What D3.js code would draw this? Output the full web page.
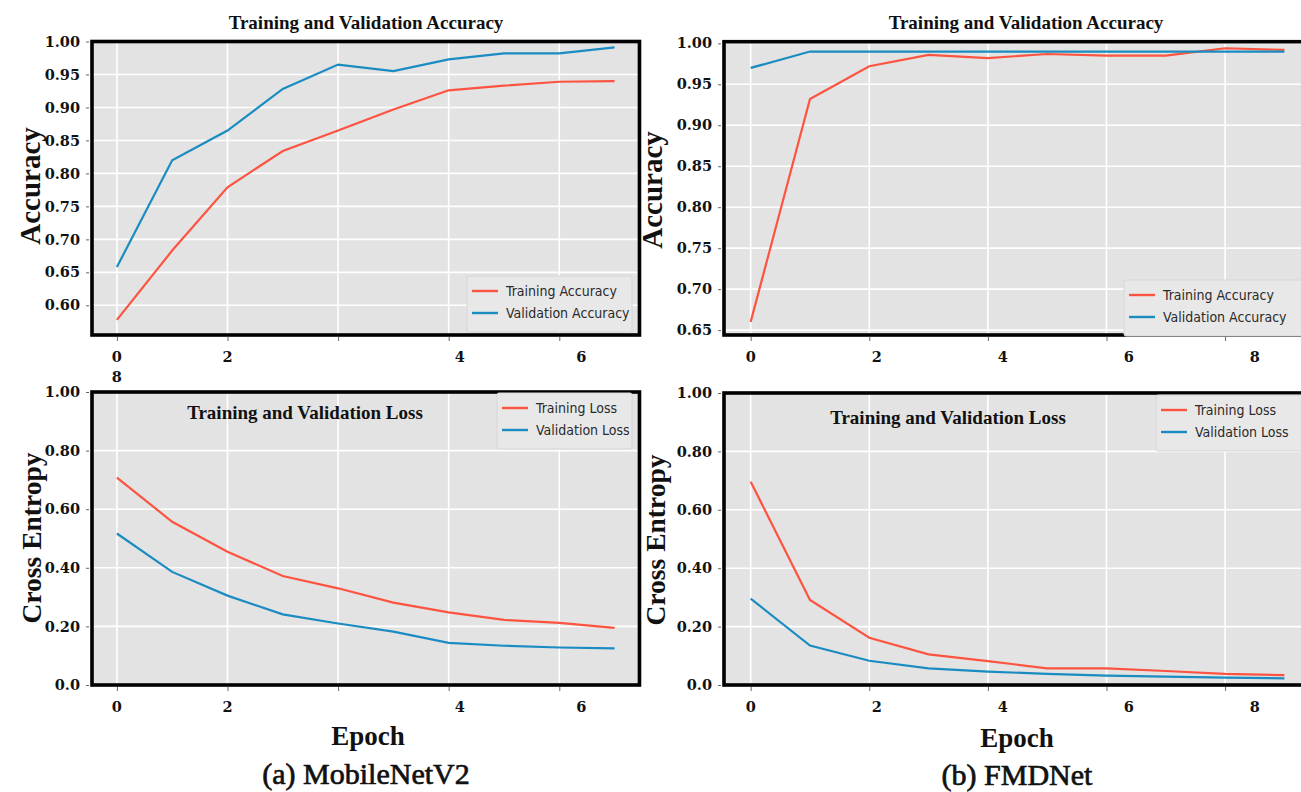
<!DOCTYPE html>
<html><head><meta charset="utf-8">
<script src="https://cdn.jsdelivr.net/npm/d3@7"></script>
<style>body{margin:0;background:#fff} svg{display:block}</style>
</head><body><svg id="c" width="1301" height="792"></svg>
<script>
// ---------- data ----------
const epochs = [0,1,2,3,4,5,6,7,8,9];
const mobTrainAcc = [0.578,0.683,0.779,0.834,0.865,0.897,0.926,0.933,0.939,0.940];
const mobValAcc   = [0.658,0.820,0.865,0.928,0.965,0.955,0.973,0.982,0.982,0.991];
const mobTrainLoss= [0.708,0.557,0.455,0.372,0.330,0.281,0.248,0.222,0.212,0.195];
const mobValLoss  = [0.517,0.386,0.305,0.241,0.210,0.182,0.144,0.134,0.128,0.125];
const fmdTrainAcc = [0.660,0.932,0.972,0.986,0.982,0.987,0.985,0.985,0.994,0.992];
const fmdValAcc   = [0.970,0.990,0.990,0.990,0.990,0.990,0.990,0.990,0.990,0.990];
const fmdTrainLoss= [0.696,0.291,0.162,0.105,0.082,0.057,0.057,0.048,0.038,0.034];
const fmdValLoss  = [0.296,0.135,0.083,0.057,0.046,0.038,0.032,0.029,0.025,0.023];
const yTicksAccA = [0.60,0.65,0.70,0.75,0.80,0.85,0.90,0.95,1.00];
const yTicksAccB = [0.65,0.70,0.75,0.80,0.85,0.90,0.95,1.00];
const yTicksLoss = [0.0,0.2,0.4,0.6,0.8,1.0];
const yLabelsLoss = ["0.0","0.20","0.40","0.60","0.80","1.00"];
const gridEpochs = [0,2,4,6,8];
const xTickLabelsA = ["0","2","4","6"];
const xTickLabelsB = ["0","2","4","6","8"];
const strayLabelA = "8";
const accLegend = ["Training Accuracy","Validation Accuracy"];
const lossLegend = ["Training Loss","Validation Loss"];
const titles = {acc:"Training and Validation Accuracy", loss:"Training and Validation Loss"};
const captions = ["(a) MobileNetV2","(b) FMDNet"];

// ---------- style ----------
const RED = "#FC5440", BLUE = "#1B8CC2";
const SERIF = "'DejaVu Serif', serif";
const TSERIF = "'Liberation Serif', serif";
const SANS = "'DejaVu Sans', sans-serif";
const svg = d3.select("#c");

function panel(o){
  const x = d3.scaleLinear().domain([-0.45, 9.45]).range([o.l, o.l + 9.9*o.step]);
  const y = d3.scaleLinear().domain(o.yd).range([o.b, o.t]);
  const g = svg.append("g");
  const clipId = "clip" + Math.round(o.l) + Math.round(o.t);
  g.append("clipPath").attr("id", clipId).append("rect")
    .attr("x", o.l).attr("y", o.t).attr("width", x.range()[1]-o.l).attr("height", o.b-o.t);
  g.append("rect").attr("x", o.l).attr("y", o.t).attr("width", x.range()[1]-o.l).attr("height", o.b-o.t)
    .attr("fill", "#E3E3E3");
  // grid
  const gg = g.append("g").attr("clip-path", `url(#${clipId})`);
  gg.selectAll(".gy").data(o.yTicks).join("line")
    .attr("x1", o.l).attr("x2", x.range()[1]).attr("y1", d=>y(d)).attr("y2", d=>y(d))
    .attr("stroke", "#fff").attr("stroke-width", 1.6);
  gg.selectAll(".gx").data(gridEpochs).join("line")
    .attr("x1", d=>x(d)).attr("x2", d=>x(d)).attr("y1", o.t).attr("y2", o.b)
    .attr("stroke", "#fff").attr("stroke-width", 1.6);
  // lines
  const line = d3.line().x((d,i)=>x(epochs[i])).y(d=>y(d));
  gg.append("path").attr("d", line(o.s1)).attr("fill","none").attr("stroke",RED).attr("stroke-width",2.2);
  gg.append("path").attr("d", line(o.s2)).attr("fill","none").attr("stroke",BLUE).attr("stroke-width",2.2);
  // y axis
  const ya = d3.axisLeft(y).tickValues(o.yTicks).tickSize(3).tickPadding(6)
    .tickFormat((d,i)=>o.yFmt(d,i));
  const yg = g.append("g").attr("transform", `translate(${o.l-3},0)`).call(ya);
  yg.select(".domain").remove();
  yg.selectAll(".tick line").attr("stroke","#666");
  yg.selectAll("text").attr("font-family", SERIF).attr("font-weight","bold")
    .attr("font-size", 14.5).attr("fill","#111");
  // x axis tick marks
  const xa = d3.axisBottom(x).tickValues(gridEpochs).tickSize(4).tickFormat("");
  const xg = g.append("g").attr("transform", `translate(0,${o.b+2})`).call(xa);
  xg.select(".domain").remove();
  xg.selectAll(".tick line").attr("stroke","#666");
  // x tick labels (placed as in the source figure)
  const ls = d3.scaleLinear().domain(o.labDom).range(o.labPos.map(v=>x(v)));
  g.selectAll(".xl").data(o.xLabels).join("text")
    .attr("x", (d,i)=>ls(+d)).attr("y", o.b + 27).attr("text-anchor","middle")
    .attr("font-family", SERIF).attr("font-weight","bold").attr("font-size",14.5).attr("fill","#111")
    .text(d=>d);
  if (o.stray) g.append("text").attr("x", ls(0)).attr("y", o.b + 47).attr("text-anchor","middle")
    .attr("font-family", SERIF).attr("font-weight","bold").attr("font-size",14.5).attr("fill","#111")
    .text(o.stray);
  // frame
  g.append("rect").attr("x", o.l).attr("y", o.t).attr("width", x.range()[1]-o.l).attr("height", o.b-o.t)
    .attr("fill","none").attr("stroke","#000").attr("stroke-width",3.6);
  // legend
  const lg = g.append("g").attr("transform", `translate(${o.lx},${o.ly})`);
  lg.append("rect").attr("width", o.lw).attr("height", 56).attr("fill","#E8E8E8")
    .attr("stroke","#D6D6D6").attr("stroke-width",1).attr("rx",2);
  o.leg.forEach((t,i)=>{
    lg.append("line").attr("x1",5).attr("x2",31).attr("y1",15+i*22).attr("y2",15+i*22)
      .attr("stroke", i? BLUE: RED).attr("stroke-width",2.4);
    lg.append("text").attr("x",39).attr("y",20+i*22).attr("font-family",SANS)
      .attr("font-stretch","condensed").attr("font-size",14).attr("fill","#2a2a2a").text(t);
  });
  // title
  g.append("text").attr("x", o.tx).attr("y", o.ty).attr("text-anchor","middle")
    .attr("font-family", TSERIF).attr("font-weight","bold").attr("font-size",19).attr("fill","#111")
    .text(o.title);
  // y label
  g.append("text").attr("transform", `translate(${o.ylx},${o.yly}) rotate(-90)`)
    .attr("text-anchor","middle").attr("font-family", TSERIF).attr("font-weight","bold")
    .attr("font-size",o.ylfs).attr("fill","#111").text(o.ylabel);
  return {x, y};
}

const fmtAcc = d=>d3.format(".2f")(d);
const fmtLoss = (d,i)=>yLabelsLoss[i];

panel({l:92, t:41.5, b:335, step:55.3, yd:[0.555,1.0], yTicks:yTicksAccA, yFmt:fmtAcc,
  s1:mobTrainAcc, s2:mobValAcc, xLabels:xTickLabelsA, labDom:[0,2,4,6], labPos:[0,2,6.2,8.4], stray:strayLabelA,
  leg:accLegend, lx:467, ly:276, lw:165, title:titles.acc, tx:366, ty:29, ylabel:"Accuracy", ylx:40, yly:186, ylfs:29});
panel({l:724, t:41.7, b:335, step:59.3, yd:[0.644,1.002], yTicks:yTicksAccB, yFmt:fmtAcc,
  s1:fmdTrainAcc, s2:fmdValAcc, xLabels:xTickLabelsB, labDom:[0,8], labPos:[0,8.5],
  leg:accLegend, lx:1124, ly:280, lw:190, title:titles.acc, tx:1026, ty:29, ylabel:"Accuracy", ylx:662, yly:190, ylfs:29});
panel({l:92, t:392, b:685, step:55.3, yd:[0,1], yTicks:yTicksLoss, yFmt:fmtLoss,
  s1:mobTrainLoss, s2:mobValLoss, xLabels:xTickLabelsA, labDom:[0,2,4,6], labPos:[0,2,6.2,8.4],
  leg:lossLegend, lx:497, ly:393, lw:135, title:titles.loss, tx:305, ty:419, ylabel:"Cross Entropy", ylx:41, yly:538, ylfs:27.5});
panel({l:724, t:393, b:685, step:59.3, yd:[0,1], yTicks:yTicksLoss, yFmt:fmtLoss,
  s1:fmdTrainLoss, s2:fmdValLoss, xLabels:xTickLabelsB, labDom:[0,8], labPos:[0,8.5],
  leg:lossLegend, lx:1156, ly:395, lw:160, title:titles.loss, tx:948, ty:424, ylabel:"Cross Entropy", ylx:665, yly:540, ylfs:27.5});

// x labels and captions
[[368,745],[1017,747]].forEach(p=>{
  svg.append("text").attr("x",p[0]).attr("y",p[1]).attr("text-anchor","middle")
    .attr("font-family",TSERIF).attr("font-weight","bold").attr("font-size",27).attr("fill","#111").text("Epoch");
});
[[366,784],[1017,785]].forEach((p,i)=>{
  svg.append("text").attr("x",p[0]).attr("y",p[1]).attr("text-anchor","middle")
    .attr("font-family",TSERIF).attr("font-size",30).attr("fill","#111")
    .attr("stroke","#111").attr("stroke-width",0.7).text(captions[i]);
});
</script></body></html>
